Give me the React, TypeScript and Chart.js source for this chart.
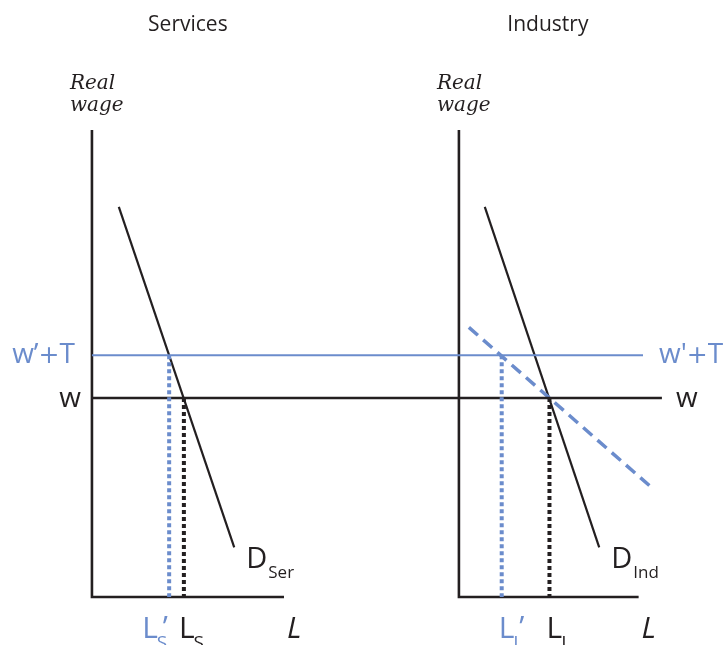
import React, { useEffect, useRef } from "react";
import { Chart, registerables } from "chart.js";

Chart.register(...registerables);

// ---- data (model units) ----
const panelTitles = ["Services", "Industry"];
const panelOrigins = [0, 18.44]; // x-origin of each panel on the shared x scale
const axisTop = [23.47, 23.47]; // height of the wage axis
const axisEnd = [9.65, 9.03]; // length of the labour axis
const wageLevels = [10, 12.15]; // w, w'+T
const wageLineEnds = [28.64, 27.69]; // right end of the w and w'+T lines
const servicesDemandL = [1.35, 7.15];
const servicesDemandW = [19.6, 2.5];
const industryDemandL = [1.3, 7.05];
const industryDemandW = [19.6, 2.5];
const industryDemandPrimeL = [0.5, 9.8];
const industryDemandPrimeW = [13.55, 5.4];
const servicesLabour = [3.88, 4.62]; // L_S', L_S
const industryLabour = [2.15, 4.55]; // L_I', L_I

const INK = "#231f20";
const BLUE = "#6b8ccc";
const SANS = "'Open Sans', 'Noto Sans', sans-serif";

function seg(xs: number[], ys: number[]) {
  return xs.map((x, i) => ({ x, y: ys[i] }));
}

export default function App() {
  const ref = useRef<HTMLCanvasElement | null>(null);
  useEffect(() => {
    document.body.style.margin = "0";
    const canvas = ref.current!;
    const [w, wt] = wageLevels;
    const oS = panelOrigins[0];
    const oI = panelOrigins[1];
    const line = (data: any[], color: string, width: number, dash: number[] = []) => ({
      data,
      showLine: true,
      borderColor: color,
      backgroundColor: color,
      borderWidth: width,
      borderDash: dash,
      borderCapStyle: "butt",
      borderJoinStyle: "miter",
      pointRadius: 0,
      fill: false,
      tension: 0,
    });
    const datasets: any[] = [
      // dotted drop lines
      line([{ x: oS + servicesLabour[0], y: wt }, { x: oS + servicesLabour[0], y: 0 }], BLUE, 4, [4, 3]),
      line([{ x: oS + servicesLabour[1], y: w }, { x: oS + servicesLabour[1], y: 0 }], INK, 4, [4, 3]),
      line([{ x: oI + industryLabour[0], y: wt }, { x: oI + industryLabour[0], y: 0 }], BLUE, 4, [4, 3]),
      line([{ x: oI + industryLabour[1], y: w }, { x: oI + industryLabour[1], y: 0 }], INK, 4, [4, 3]),
      // wage lines
      line([{ x: oS, y: wt }, { x: wageLineEnds[1], y: wt }], BLUE, 2.2),
      line([{ x: oS, y: w }, { x: wageLineEnds[0], y: w }], INK, 2.4),
      // shifted industry demand
      line(seg(industryDemandPrimeL.map((v) => v + oI), industryDemandPrimeW), BLUE, 3.5, [12, 7]),
      // demand curves
      line(seg(servicesDemandL.map((v) => v + oS), servicesDemandW), INK, 2.2),
      line(seg(industryDemandL.map((v) => v + oI), industryDemandW), INK, 2.2),
      // axes
      line([{ x: oS, y: axisTop[0] }, { x: oS, y: 0 }, { x: oS + axisEnd[0], y: 0 }], INK, 2.6),
      line([{ x: oI, y: axisTop[1] }, { x: oI, y: 0 }, { x: oI + axisEnd[1], y: 0 }], INK, 2.6),
    ];

    const labels = {
      id: "labels",
      afterDatasetsDraw(chart: any) {
        const { ctx } = chart;
        const X = (v: number) => chart.scales.x.getPixelForValue(v);
        const Y = (v: number) => chart.scales.y.getPixelForValue(v);
        ctx.save();
        ctx.textBaseline = "alphabetic";
        const txt = (s: string, x: number, y: number, font: string, color: string, align: CanvasTextAlign = "left") => {
          ctx.font = font;
          ctx.fillStyle = color;
          ctx.textAlign = align;
          ctx.fillText(s, x, y);
          ctx.textAlign = "left";
          return ctx.measureText(s).width;
        };
        // multi-font run of text
        const run = (parts: [string, string][], x: number, y: number, color: string, align: "left" | "right") => {
          let total = 0;
          for (const [s, f] of parts) {
            ctx.font = f;
            total += ctx.measureText(s).width;
          }
          let cx = align === "right" ? x - total : x;
          for (const [s, f] of parts) cx += txt(s, cx, y, f, color);
        };
        const f28 = `28px ${SANS}`;
        const plus = `25px 'DejaVu Sans', sans-serif`;
        const big = `30px ${SANS}`;
        // titles
        ctx.textBaseline = "middle";
        txt(panelTitles[0], X(oS + 4.82), 25, `21px ${SANS}`, INK, "center");
        txt(panelTitles[1], X(oI + 4.47), 25, `21px ${SANS}`, INK, "center");
        ctx.textBaseline = "alphabetic";
        // Real wage
        for (let i = 0; i < 2; i++) {
          const ax = X(panelOrigins[i]);
          const ay = Y(axisTop[i]);
          txt("Real", ax - 22, ay - 41, `italic 20px 'DejaVu Serif', serif`, INK);
          txt("wage", ax - 22, ay - 19, `italic 20px 'DejaVu Serif', serif`, INK);
        }
        // wage labels
        run([["w’", f28], ["+", plus], ["T", f28]], X(oS) - 17, Y(wt) + 8, BLUE, "right");
        txt("w", X(oS) - 11, Y(w) + 9, f28, INK, "right");
        run([["w'", f28], ["+", plus], ["T", f28]], X(wageLineEnds[1]) + 16, Y(wt) + 8, BLUE, "left");
        txt("w", X(wageLineEnds[0]) + 14, Y(w) + 9, f28, INK);
        // demand labels
        const dLab = (sub: string, ex: number, ey: number) => {
          const x0 = X(ex) + 12;
          const y0 = Y(ey) + 21;
          const wd = txt("D", x0, y0, `29px ${SANS}`, INK);
          txt(sub, x0 + wd + 1, y0 + 10, `17px ${SANS}`, INK);
        };
        dLab("Ser", oS + servicesDemandL[1], servicesDemandW[1]);
        dLab("Ind", oI + industryDemandL[1], industryDemandW[1]);
        // labour labels
        const by = Y(0) + 41;
        const lLab = (x0: number, sub: string, prime: boolean, color: string) => {
          const wd = txt("L", x0, by, big, color);
          txt(sub, x0 + wd - 1, by + 11, `19px ${SANS}`, color);
          if (prime) txt("’", x0 + wd + 5, by - 1, big, color);
        };
        lLab(X(oS + servicesLabour[0]) - 27, "S", true, BLUE);
        lLab(X(oS + servicesLabour[1]) - 5, "S", false, INK);
        lLab(X(oI + industryLabour[0]) - 3, "I", true, BLUE);
        lLab(X(oI + industryLabour[1]) - 3, "I", false, INK);
        txt("L", X(oS + axisEnd[0]) + 3, by, `italic 30px ${SANS}`, INK);
        txt("L", X(oI + axisEnd[1]) + 3, by, `italic 30px ${SANS}`, INK);
        ctx.restore();
      },
    };

    const chart = new Chart(canvas, {
      type: "scatter",
      data: { datasets },
      options: {
        animation: false,
        responsive: false,
        devicePixelRatio: 1,
        layout: { padding: 0 },
        plugins: { legend: { display: false }, tooltip: { enabled: false } },
        scales: {
          x: { type: "linear", min: -4.62, max: 31.76, display: false },
          y: { type: "linear", min: -2.41, max: 30, display: false },
        },
      },
      plugins: [labels],
    } as any);
    return () => chart.destroy();
  }, []);
  return (
    <div style={{ position: "absolute", left: 0, top: 0, width: 724, height: 645, background: "#fff" }}>
      <canvas ref={ref} width={724} height={645} style={{ display: "block" }} />
    </div>
  );
}
